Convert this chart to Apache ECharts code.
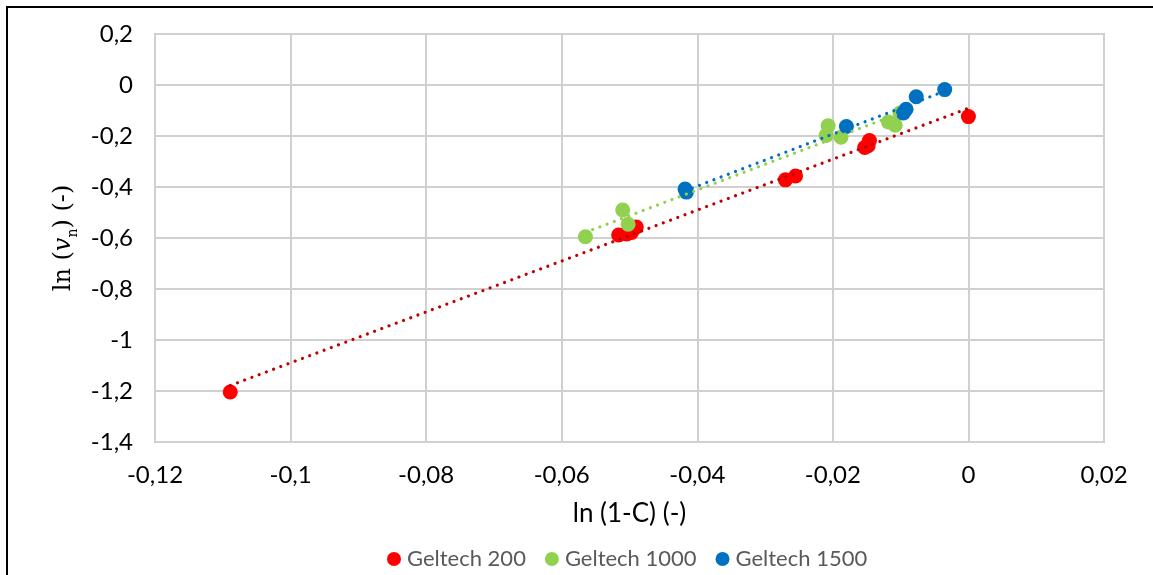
<!DOCTYPE html>
<html>
<head>
<meta charset="utf-8">
<script src="https://cdn.jsdelivr.net/npm/echarts@6/dist/echarts.min.js"></script>
<style>
html,body{margin:0;padding:0;background:#fff;}
#main{width:1153px;height:575px;}
</style>
</head>
<body>
<div id="main"></div>
<script>
// Data
const seriesNames = ['Geltech 200', 'Geltech 1000', 'Geltech 1500'];
const g200X = [-0.1089, -0.0516, -0.0504, -0.0497, -0.0490, -0.0270, -0.0255, -0.0153, -0.0148, -0.0146, 0.0000];
const g200Y = [-1.204, -0.588, -0.584, -0.578, -0.557, -0.372, -0.357, -0.245, -0.238, -0.218, -0.124];
const g1000X = [-0.0565, -0.0510, -0.0502, -0.0210, -0.0207, -0.0188, -0.0118, -0.0108, -0.0101];
const g1000Y = [-0.595, -0.490, -0.546, -0.198, -0.160, -0.205, -0.145, -0.158, -0.110];
const g1500X = [-0.0418, -0.0416, -0.0180, -0.0096, -0.0092, -0.0077, -0.0035];
const g1500Y = [-0.408, -0.420, -0.163, -0.110, -0.095, -0.046, -0.018];
const xTicks = {min: -0.12, max: 0.02, step: 0.02};
const yTicks = {min: -1.4, max: 0.2, step: 0.2};

const markerColors = ['#FF0000', '#92D050', '#0070C0'];
const trendColors = ['#C00000', '#92D050', '#0070C0'];
const xs = [g200X, g1000X, g1500X];
const ys = [g200Y, g1000Y, g1500Y];

function pairs(a, b) { return a.map((v, i) => [v, b[i]]); }
function trend(a, b) {
  const n = a.length;
  const mx = a.reduce((s, v) => s + v, 0) / n;
  const my = b.reduce((s, v) => s + v, 0) / n;
  let sxy = 0, sxx = 0;
  for (let i = 0; i < n; i++) { sxy += (a[i] - mx) * (b[i] - my); sxx += (a[i] - mx) * (a[i] - mx); }
  const k = sxy / sxx, c = my - k * mx;
  const x0 = Math.min(...a), x1 = Math.max(...a);
  return [[x0, k * x0 + c], [x1, k * x1 + c]];
}
function comma(v, d) { return String(Math.round(v * d) / d).replace('.', ','); }

const FONT = 'Lato';
const series = [];
for (let i = 0; i < 3; i++) {
  series.push({
    name: seriesNames[i], type: 'scatter', data: pairs(xs[i], ys[i]),
    symbol: 'circle', symbolSize: 15,
    itemStyle: {color: markerColors[i], opacity: 1},
    emphasis: {disabled: true}, z: 2
  });
}
for (let i = 0; i < 3; i++) {
  series.push({
    name: seriesNames[i] + ' trend', type: 'line', data: trend(xs[i], ys[i]),
    symbol: 'none', silent: true,
    lineStyle: {color: trendColors[i], width: 3.2, type: [0.01, 7.7], cap: 'round'},
    z: 3
  });
}

const chart = echarts.init(document.getElementById('main'), null, {renderer: 'canvas'});
chart.setOption({
  animation: false,
  backgroundColor: '#fff',
  graphic: [{type: 'rect', shape: {x: 7, y: 7, width: 1200, height: 620}, style: {fill: 'none', stroke: '#000', lineWidth: 2}, silent: true}],
  grid: {left: 155, right: 49, top: 34, bottom: 133, show: true, borderColor: '#C8C8C8', borderWidth: 2},
  legend: {
    data: seriesNames, bottom: 5, left: 387, padding: 0, icon: 'circle', itemWidth: 14, itemHeight: 14, itemGap: 19,
    textStyle: {fontFamily: FONT, fontSize: 22, color: '#595959', padding: [0, 0, 0, 1]}
  },
  xAxis: {
    type: 'value', min: xTicks.min, max: xTicks.max, interval: xTicks.step,
    name: 'ln (1-C) (-)', nameLocation: 'middle', nameGap: 59,
    nameTextStyle: {fontFamily: FONT, fontSize: 26, color: '#000'},
    axisLine: {show: false}, axisTick: {show: false},
    axisLabel: {formatter: v => comma(v, 100), fontFamily: FONT, fontSize: 24, color: '#000', margin: 21},
    splitLine: {lineStyle: {color: '#D0D0D0', width: 2}}
  },
  yAxis: {
    type: 'value', min: yTicks.min, max: yTicks.max, interval: yTicks.step,
    name: '{a|ln (}{v|𝑣}{s|n}{a|) (-)}', nameLocation: 'middle', nameGap: 70, nameRotate: 90,
    nameTextStyle: {
      rich: {
        a: {fontFamily: 'DejaVu Serif', fontSize: 24, color: '#000', lineHeight: 32},
        v: {fontFamily: 'DejaVu Serif', fontStyle: 'italic', fontSize: 24, color: '#000', lineHeight: 32},
        s: {fontFamily: 'DejaVu Serif', fontSize: 14, color: '#000', lineHeight: 15, verticalAlign: 'bottom'}
      }
    },
    axisLine: {show: false}, axisTick: {show: false},
    axisLabel: {formatter: v => comma(v, 10), fontFamily: FONT, fontSize: 24, color: '#000', margin: 22},
    splitLine: {lineStyle: {color: '#D0D0D0', width: 2}}
  },
  series: series
});
</script>
</body>
</html>
